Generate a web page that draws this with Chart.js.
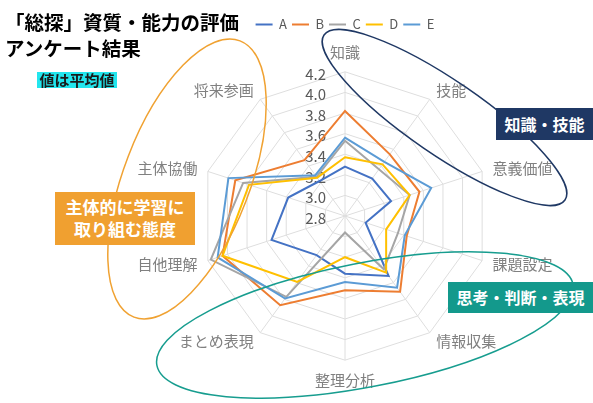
<!DOCTYPE html>
<html lang="ja">
<head>
  <meta charset="UTF-8">
  <title>「総探」資質・能力の評価 アンケート結果</title>
  <style>
    html, body {
      margin: 0;
      padding: 0;
      background: #fff;
    }
    body {
      width: 593px;
      height: 403px;
      overflow: hidden;
      position: relative;
      font-family: "Noto Sans CJK JP", sans-serif;
    }
    #chartCanvas {
      position: absolute;
      left: 0;
      top: 0;
    }
    #deco {
      position: absolute;
      left: 0;
      top: 0;
      pointer-events: none;
    }
    .title {
      position: absolute;
      left: 5px;
      top: 9px;
      font-size: 19.5px;
      font-weight: bold;
      line-height: 26px;
      color: #000;
      white-space: nowrap;
    }
    .note {
      position: absolute;
      left: 37px;
      top: 72px;
      padding: 0 2.5px;
      font-size: 15px;
      font-weight: bold;
      line-height: 16px;
      color: #1a1a1a;
      background: #22e6ee;
    }
    .tag {
      position: absolute;
      color: #fff;
      font-weight: bold;
      text-align: center;
      white-space: nowrap;
    }
  </style>
</head>
<body>

  <canvas id="chartCanvas" width="593" height="403"></canvas>

  <svg id="deco" width="593" height="403">
    <ellipse cx="187" cy="179" rx="63" ry="148" transform="rotate(21 187 179)"
             fill="none" stroke="#F0A232" stroke-width="1.5"/>
    <ellipse cx="444.5" cy="117.5" rx="146" ry="37" transform="rotate(34.4 444.5 117.5)"
             fill="none" stroke="#1F3864" stroke-width="1.5"/>
    <ellipse cx="365" cy="325" rx="212" ry="62" transform="rotate(-11 365 325)"
             fill="none" stroke="#179D8F" stroke-width="1.5"/>
  </svg>

  <div class="title">「総探」資質・能力の評価<br>アンケート結果</div>
  <div class="note">値は平均値</div>

  <div class="tag" style="left:55px; top:192px; width:140px; height:53px; background:#F0A030; font-size:17px; line-height:22px; padding-top:4px; box-sizing:border-box;">主体的に学習に<br>取り組む態度</div>
  <div class="tag" style="left:496px; top:108px; width:97px; height:32px; background:#1F3864; font-size:16px; line-height:32px;">知識・技能</div>
  <div class="tag" style="left:448px; top:282px; width:145px; height:31px; background:#13998C; font-size:16px; line-height:31px;">思考・判断・表現</div>

  <script src="https://cdn.jsdelivr.net/npm/chart.js"></script>

  <script>
    // 観点（時計回り、上から）
    const categories = ['知識', '技能', '意義価値', '課題設定', '情報収集',
                        '整理分析', 'まとめ表現', '自他理解', '主体協働', '将来参画'];

    const seriesNames = ['A', 'B', 'C', 'D', 'E'];
    const seriesColors = ['#4472C4', '#ED7D31', '#A5A5A5', '#FFC000', '#5B9BD5'];

    // 平均値
    const valuesA = [3.28, 3.25, 3.27, 3.01, 3.52, 3.36, 3.27, 3.55, 3.38, 3.22];
    const valuesB = [3.82, 3.54, 3.56, 3.43, 3.71, 3.52, 3.87, 4.05, 3.92, 3.47];
    const valuesC = [3.53, 3.36, 3.46, 3.34, 3.44, 2.96, 3.77, 4.17, 3.84, 3.27];
    const valuesD = [3.37, 3.42, 3.46, 3.22, 3.48, 3.20, 3.59, 4.05, 3.78, 3.26];
    const valuesE = [3.56, 3.45, 3.68, 3.41, 3.66, 3.44, 3.79, 4.10, 3.99, 3.29];
    const seriesValues = [valuesA, valuesB, valuesC, valuesD, valuesE];

    // 目盛り
    const axisMin = 2.8;
    const axisMax = 4.2;
    const axisStep = 0.2;

    const fontFamily = '"Noto Sans CJK JP", sans-serif';

    // 目盛りの数値は軸の左側に描く
    const tickLabelPlugin = {
      id: 'tickLabels',
      beforeDatasetsDraw(chart) {
        const r = chart.scales.r;
        const ctx = chart.ctx;
        ctx.save();
        ctx.font = '15px ' + fontFamily;
        ctx.fillStyle = '#595959';
        ctx.textAlign = 'right';
        ctx.textBaseline = 'middle';
        r.ticks.forEach(t => {
          const d = r.getDistanceFromCenterForValue(t.value);
          ctx.fillText(t.value.toFixed(1), r.xCenter - 19, r.yCenter - d + 2);
        });
        ctx.restore();
      }
    };

    const datasets = seriesNames.map((name, i) => ({
      label: name,
      data: seriesValues[i],
      borderColor: seriesColors[i],
      backgroundColor: seriesColors[i],
      borderWidth: 2,
      pointRadius: 0,
      fill: false,
      order: seriesNames.length - i
    }));

    const ctx = document.getElementById('chartCanvas').getContext('2d');
    new Chart(ctx, {
      type: 'radar',
      data: {
        labels: categories,
        datasets: datasets
      },
      options: {
        responsive: false,
        animation: false,
        devicePixelRatio: 1,
        layout: {
          padding: { left: 97, right: 0, top: 13, bottom: 21 }
        },
        plugins: {
          legend: {
            position: 'top',
            labels: {
              usePointStyle: true,
              pointStyle: 'line',
              pointStyleWidth: 17,
              boxWidth: 17,
              padding: 5,
              color: '#595959',
              font: { family: fontFamily, size: 13 },
              sort: (a, b) => a.datasetIndex - b.datasetIndex
            }
          },
          subtitle: {
            display: true,
            text: '',
            weight: 500,
            font: { size: 9 },
            padding: { top: 0, bottom: 0 }
          },
          tooltip: { enabled: false }
        },
        scales: {
          r: {
            min: axisMin,
            max: axisMax,
            ticks: {
              stepSize: axisStep,
              display: false
            },
            grid: {
              color: '#dedede',
              lineWidth: 1
            },
            angleLines: {
              color: '#dedede',
              lineWidth: 1
            },
            pointLabels: {
              color: '#808080',
              font: { family: fontFamily, size: 15, lineHeight: 0 },
              padding: c => (c.index === 0 || c.index === 5) ? 20 : 11
            }
          }
        }
      },
      plugins: [tickLabelPlugin]
    });
  </script>

</body>
</html>
